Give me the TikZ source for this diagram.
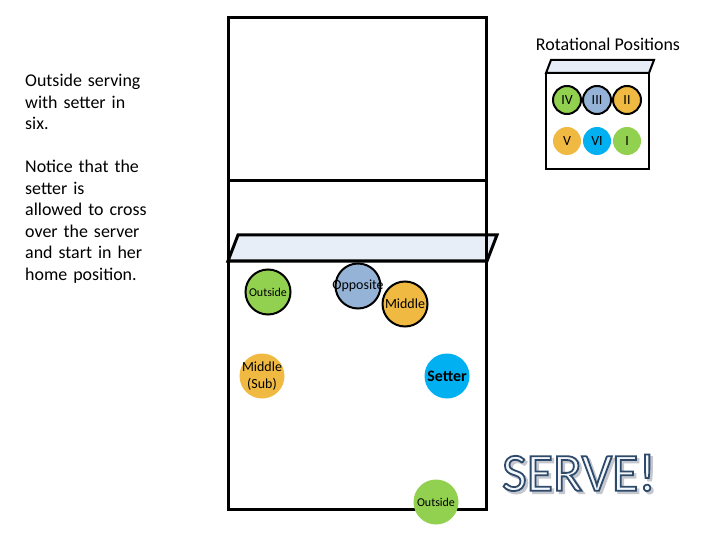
\documentclass[tikz,border=0pt]{standalone}
\usepackage{fontspec}
\setmainfont{Carlito}
\definecolor{cgreen}{HTML}{92D050}
\definecolor{cblue}{HTML}{95B3D7}
\definecolor{corange}{HTML}{F0B941}
\definecolor{ccyan}{HTML}{00B0F0}
\definecolor{netfill}{HTML}{E8EEF7}
\definecolor{servefill}{HTML}{F4F7FB}
\definecolor{serveshadow}{HTML}{C4C8CE}
\begin{document}
\begin{tikzpicture}[x=1bp,y=-1bp,
  courtline/.style={line width=3bp, line join=miter},
  boxline/.style={line width=2bp},
  player/.style={circle, minimum size=45bp, inner sep=0pt},
  ring/.style={draw=black, line width=2bp},
  tag/.style={inner sep=0pt, align=center, text=black},
  posdot/.style={circle, minimum size=28bp, inner sep=0pt, font=\fontsize{14}{16}\selectfont},
  posring/.style={draw=black, line width=2bp}]
\useasboundingbox (0,0) rectangle (720,540);

% left text
\node[anchor=north west, inner sep=0pt, text width=150bp, align=left,
      font=\fontsize{18}{21.6}\selectfont] (notes) at (25,74)
  {Outside serving\\with setter in\\six.\\\mbox{}\\Notice that the\\setter is\\allowed to cross\\over the server\\and start in her\\home position.};

% rotational positions box
\node[font=\fontsize{18}{21.6}\selectfont] (rottitle) at (608,44) {Rotational Positions};
\draw[boxline, fill=netfill] (546,73) -- (551,60) -- (654,60) -- (649,73) -- cycle;
\draw[boxline] (546,73) rectangle (649,169);
\node[posdot, posring, fill=cgreen] (pIV) at (567,100) {IV};
\node[posdot, posring, fill=cblue] (pIII) at (597,100) {III};
\node[posdot, posring, fill=corange] (pII) at (627,100) {II};
\node[posdot, fill=corange] (pV) at (567,141) {V};
\node[posdot, fill=ccyan] (pVI) at (597,141) {VI};
\node[posdot, fill=cgreen] (pI) at (627,141) {I};

% court
\draw[courtline, fill=netfill] (228,261) -- (238,235) -- (497,235) -- (487,261) -- cycle;
\draw[courtline] (228,18) rectangle (486,509);
\draw[courtline] (228,181) -- (486,181);

% players
\node[player, ring, fill=cgreen] (outfront) at (268,292) {};
\node[tag, font=\fontsize{12}{14}\selectfont] (outfronttxt) at (outfront) {Outside};
\node[player, ring, fill=cblue] (opp) at (358,286) {};
\node[tag, font=\fontsize{14}{16}\selectfont] (opptxt) at (opp) {Opposite};
\node[player, ring, fill=corange] (mid) at (405,304) {};
\node[tag, font=\fontsize{14}{16}\selectfont] (midtxt) at (mid) {Middle};
\node[player, fill=corange] (midsub) at (262,376) {};
\node[tag, font=\fontsize{14}{17}\selectfont] (midsubtxt) at (midsub) {Middle\\(Sub)};
\node[player, fill=ccyan] (setter) at (447,376) {};
\node[tag, font=\bfseries\fontsize{16}{18}\selectfont] (settertxt) at (setter) {Setter};
\node[player, fill=cgreen] (outback) at (436,502) {};
\node[tag, font=\fontsize{12}{14}\selectfont] (outbacktxt) at (outback) {Outside};

% SERVE!
\node[inner sep=0pt, font=\fontsize{54}{60}\selectfont] (serve) at (579,474)
  {\rlap{\hspace{2.5bp}\raisebox{-2.5bp}{\color{serveshadow}\special{pdf:literal direct 0.77 0.78 0.81 RG 1.8 w 2 Tr}SERVE!\special{pdf:literal direct 0 Tr}}}%
   {\color{servefill}\special{pdf:literal direct 0.18 0.29 0.42 RG 1.8 w 2 Tr}SERVE!\special{pdf:literal direct 0 Tr}}};
\end{tikzpicture}
\end{document}
